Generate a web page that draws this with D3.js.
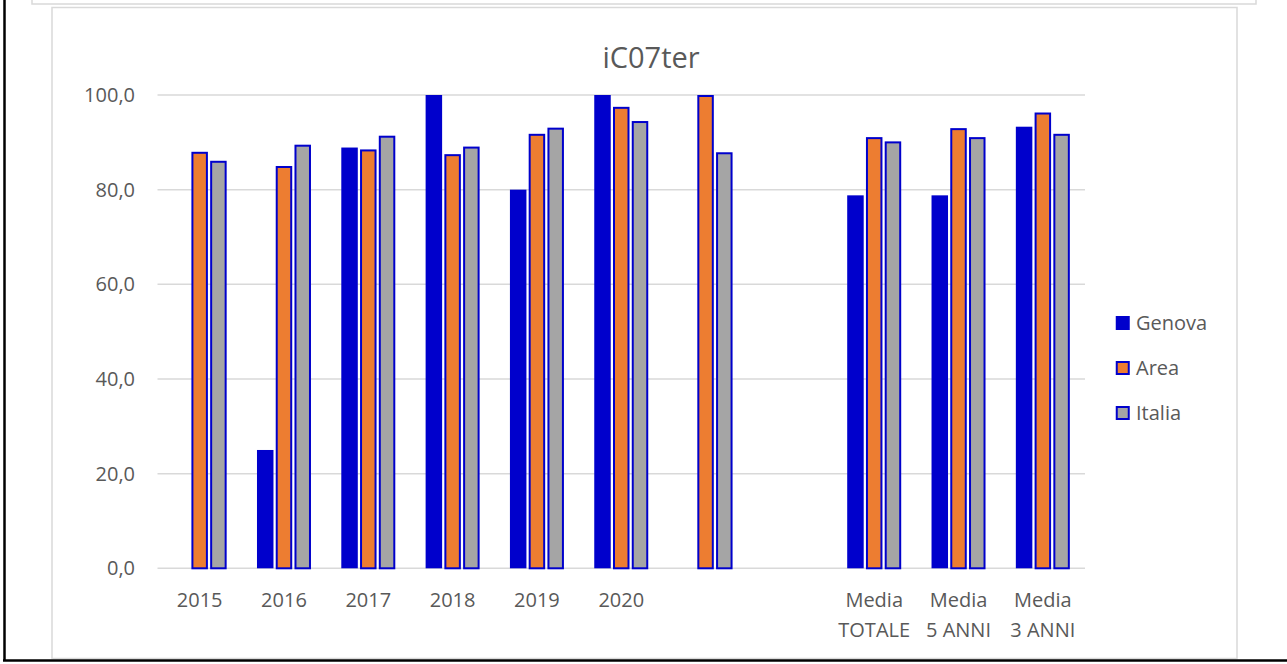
<!DOCTYPE html>
<html><head><meta charset="utf-8">
<script src="https://cdn.jsdelivr.net/npm/d3@7"></script>
<style>html,body{margin:0;padding:0;background:#fff;}svg{display:block;font-family:"Open Sans",sans-serif;}</style>
</head><body><svg id="c" width="1287" height="664"></svg>
<script>
const categories = ["2015","2016","2017","2018","2019","2020"," ","  ","Media\nTOTALE","Media\n5 ANNI","Media\n3 ANNI"];
const genova = [null, 25.0, 88.9, 100.0, 80.0, 100.0, null, null, 78.8, 78.8, 93.3];
const area   = [88.0, 85.0, 88.5, 87.5, 91.8, 97.5, 100.0, null, 91.1, 93.0, 96.3];
const italia = [86.1, 89.5, 91.4, 89.1, 93.1, 94.5, 87.9, null, 90.2, 91.1, 91.8];
const seriesNames = ["Genova","Area","Italia"];
const yTicks = [0,20,40,60,80,100];
const title = "iC07ter";

const BLUE="#0000CC", ORANGE="#ED7D31", GRAY="#A5A5A5", TXT="#595959", GRID="#D9D9D9";
const fills=[BLUE,ORANGE,GRAY];
const svg=d3.select("#c");

// frames
svg.append("rect").attr("x",32).attr("y",-10).attr("width",1224).attr("height",14).attr("fill","none").attr("stroke","#D9D9D9").attr("stroke-width",1.5);
svg.append("rect").attr("x",52).attr("y",7.5).attr("width",1185).attr("height",651).attr("fill","#fff").attr("stroke","#D9D9D9").attr("stroke-width",1.5);
svg.append("line").attr("x1",4.5).attr("x2",4.5).attr("y1",0).attr("y2",661).attr("stroke","#000").attr("stroke-width",2.5);
svg.append("line").attr("x1",3).attr("x2",1287).attr("y1",660.5).attr("y2",660.5).attr("stroke","#000").attr("stroke-width",2.5);

const x=d3.scaleBand().domain(categories).range([157.5,1085]).paddingInner(0).paddingOuter(0);
const y=d3.scaleLinear().domain([0,100]).range([568.3,95]);

// grid
svg.append("g").selectAll("line").data(yTicks).join("line")
  .attr("x1",157.5).attr("x2",1085).attr("y1",d=>y(d)).attr("y2",d=>y(d))
  .attr("stroke",GRID).attr("stroke-width",1.5);

// y labels
svg.append("g").selectAll("text").data(yTicks).join("text")
  .attr("x",135).attr("y",d=>y(d)).attr("dy","0.35em").attr("text-anchor","end")
  .attr("fill",TXT).attr("font-size",20).text(d=>d3.format(".1f")(d).replace(".",","));

// bars
const step=18.75, bw=16.5, sw=2;
const data=[genova,area,italia];
data.forEach((vals,si)=>{
  const g=svg.append("g");
  g.selectAll("rect").data(vals.map((v,i)=>({v,c:categories[i]})).filter(d=>d.v!=null)).join("rect")
    .attr("x",d=>x(d.c)+x.bandwidth()/2+(si-1)*step-bw/2+(si?sw/2:0))
    .attr("y",d=>y(d.v)+(si?sw/2:0))
    .attr("width",si?bw-sw:bw)
    .attr("height",d=>y(0)-y(d.v)-(si?sw/2:0))
    .attr("fill",fills[si])
    .attr("stroke",si?BLUE:"none").attr("stroke-width",sw);
});

// x labels
const xl=svg.append("g");
categories.forEach(c=>{
  const lines=c.trim()===""?[]:c.split("\n");
  const t=xl.append("text").attr("x",x(c)+x.bandwidth()/2).attr("y",607).attr("text-anchor","middle").attr("fill",TXT).attr("font-size",20);
  lines.forEach((l,i)=>t.append("tspan").attr("x",x(c)+x.bandwidth()/2).attr("dy",i?29.5:0).text(l));
});

// title
svg.append("text").attr("x",651).attr("y",68).attr("text-anchor","middle").attr("fill",TXT).attr("font-size",29).text(title);

// legend
const lg=svg.append("g");
seriesNames.forEach((n,i)=>{
  const yy=316+i*45;
  lg.append("rect").attr("x",i?1116.75:1115.75).attr("y",i?yy+1:yy).attr("width",i?12:14).attr("height",i?12:14)
    .attr("fill",fills[i]).attr("stroke",i?BLUE:"none").attr("stroke-width",sw);
  lg.append("text").attr("x",1136).attr("y",yy+7).attr("dy","0.35em").attr("fill",TXT).attr("font-size",20).text(n);
});
</script></body></html>
